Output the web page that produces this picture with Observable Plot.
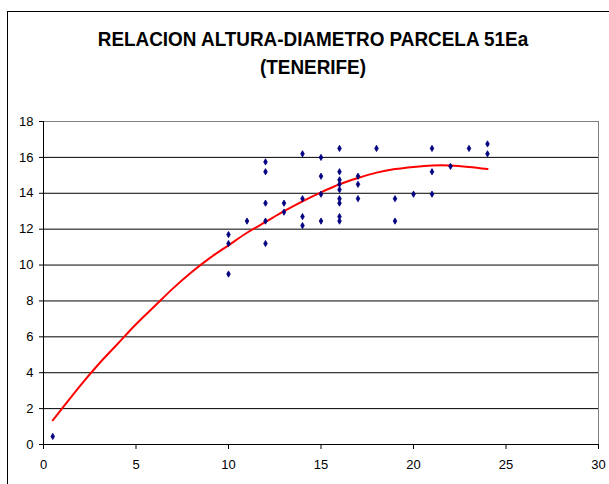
<!DOCTYPE html>
<html>
<head>
<meta charset="utf-8">
<script src="https://cdn.jsdelivr.net/npm/d3@7"></script>
<script src="https://cdn.jsdelivr.net/npm/@observablehq/plot@0.6"></script>
<style>
  html, body { margin: 0; padding: 0; background: #fff; }
  #wrap { position: relative; width: 609px; height: 484px; overflow: hidden; background: #fff; }
  #border { position: absolute; left: 7px; top: 11px; width: 700px; height: 600px; border-left: 1.5px solid #000; border-top: 1.5px solid #000; }
  #title { position: absolute; left: 48px; top: 25px; width: 530px; text-align: center;
           font-family: "Liberation Sans", Arial, sans-serif; font-weight: bold; font-size: 21px; line-height: 28px; color: #000;
           transform: scaleX(0.9); transform-origin: 50% 50%; }
  #chart { position: absolute; left: 0; top: 100px; }
</style>
</head>
<body>
<div id="wrap">
  <div id="border"></div>
  <div id="title">RELACION ALTURA-DIAMETRO PARCELA 51Ea<br>(TENERIFE)</div>
  <div id="chart"></div>
</div>
<script>
// Observed trees: diameter (x) and height (y)
const diametro = [0.5, 10, 10, 10, 11, 12, 12, 12, 12, 12, 13, 13, 14, 14, 14, 14, 15, 15, 15, 15,
  16, 16, 16, 16, 16, 16, 16, 16, 16, 17, 17, 17, 18, 19, 19, 20, 21, 21, 21, 22, 23, 24, 24];
const altura = [0.45, 11.7, 11.2, 9.5, 12.45, 15.75, 15.2, 13.45, 12.45, 11.2, 13.45, 12.95, 16.2, 13.7, 12.7, 12.2, 16.0, 14.95, 13.95, 12.45,
  16.5, 15.2, 14.75, 14.5, 14.2, 13.7, 13.45, 12.7, 12.45, 14.95, 14.5, 13.7, 16.5, 13.7, 12.45, 13.95, 16.5, 15.2, 13.95, 15.5, 16.5, 16.75, 16.2];

// Trend line
const trendX = [0.5, 1, 2, 3, 4, 5, 6, 7, 8, 9, 10, 11, 12, 13, 14, 15, 16, 17, 18, 19, 20, 21, 22, 23, 24];
const trendY = [1.35, 2.0, 3.3, 4.5, 5.6, 6.7, 7.7, 8.7, 9.6, 10.4, 11.1, 11.8, 12.4, 13.0, 13.55, 14.05, 14.5, 14.85, 15.15, 15.35, 15.47, 15.55, 15.55, 15.47, 15.35];

const xTicks = [0, 5, 10, 15, 20, 25, 30];
const yTicks = [0, 2, 4, 6, 8, 10, 12, 14, 16, 18];
const gridY = [2, 4, 6, 8, 10, 12, 14, 16];

const points = diametro.map((d, i) => ({x: d, y: altura[i]}));
const trend = trendX.map((d, i) => ({x: d, y: trendY[i]}));

const chart = Plot.plot({
  width: 609,
  height: 384,
  marginTop: 21,
  marginBottom: 40,
  marginLeft: 43,
  marginRight: 11,
  style: {fontFamily: "'Liberation Sans', Arial, sans-serif", fontSize: "13px", color: "#000", background: "transparent"},
  x: {domain: [0, 30]},
  y: {domain: [0, 18]},
  marks: [
    Plot.ruleY(gridY, {stroke: "#000", strokeWidth: 1}),
    Plot.ruleY([18], {stroke: "#808080", strokeWidth: 1}),
    Plot.ruleX([30], {stroke: "#808080", strokeWidth: 1}),
    Plot.ruleX([0], {stroke: "#000", strokeWidth: 1}),
    Plot.ruleY([0], {stroke: "#000", strokeWidth: 1}),
    Plot.axisX({ticks: xTicks, tickSize: 5, tickPadding: 10, label: null, stroke: "#000", strokeOpacity: 1, fill: "#000"}),
    Plot.axisY({ticks: yTicks, tickSize: 4, tickPadding: 6, label: null, stroke: "#000", strokeOpacity: 1, fill: "#000"}),
    Plot.line(trend, {x: "x", y: "y", stroke: "#ff0000", strokeWidth: 2, curve: "catmull-rom"}),
    Plot.dot(points, {x: "x", y: "y", symbol: "diamond", r: 1.9, fill: "#000080", stroke: "#000080", strokeWidth: 0.8})
  ]
});
document.getElementById("chart").appendChild(chart);
</script>
</body>
</html>
